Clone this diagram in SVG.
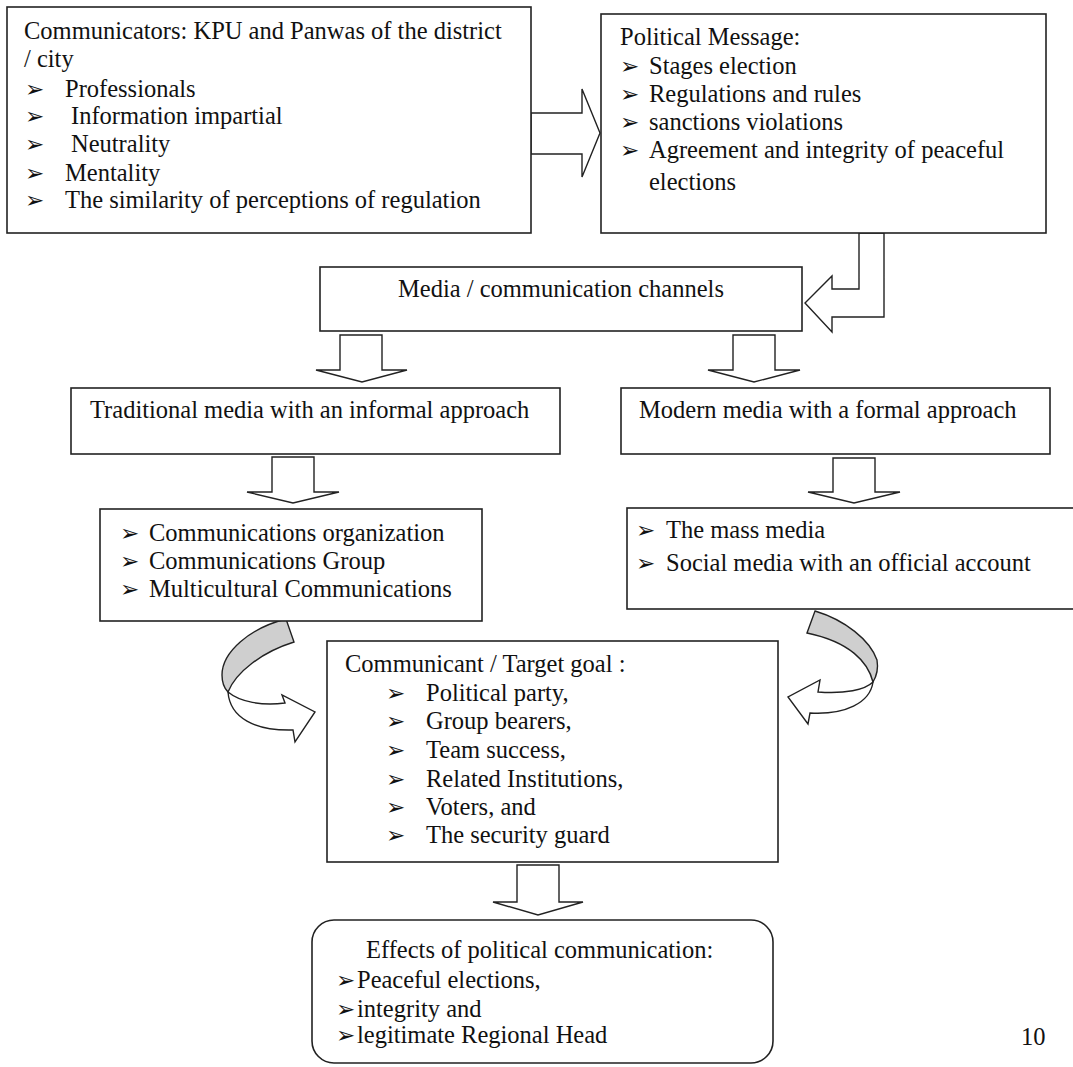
<svg xmlns="http://www.w3.org/2000/svg" width="1073" height="1067" viewBox="0 0 1073 1067">
<defs>
<style>
.box{fill:#fff;stroke:#222;stroke-width:1.6}
.arr{fill:#fff;stroke:#222;stroke-width:1.4;stroke-linejoin:miter}
.gray{fill:#cfcfcf;stroke:#222;stroke-width:1.4}
.t{font-family:"Liberation Serif","Times New Roman",serif;font-size:24.5px;fill:#111}
.b{font-family:"DejaVu Sans",sans-serif;font-size:23px;fill:#111}
</style>
</defs>
<rect width="1073" height="1067" fill="#fff"/>

<g id="connectors">
<polygon class="arr" points="531,113 582,113 582,89 600,133 582,177 582,154 531,154"/>
<polygon class="arr" points="859,233 884,233 884,317 832,317 832,332 805,303 832,276 832,289 859,289"/>
<polygon class="arr" points="340,335 382,335 382,370 407,370 362,382 316,370 340,370"/>
<polygon class="arr" points="733,335 775,335 775,370 800,370 754,382 708,370 733,370"/>
<polygon class="arr" points="272,457 314,457 314,492 339,492 293,503 247,492 272,492"/>
<polygon class="arr" points="833,458 875,458 875,492 900,492 854,503 808,492 833,492"/>
<polygon class="arr" points="517,865 559,865 559,902 583,902 538,915 493,902 517,902"/>
<g id="curved-left">
<path class="gray" d="M286,619 C250,628 222,652 222,675 Q222,686 228,692 C236,672 262,652 294,642 Z"/>
<path class="arr" d="M228,692 C240,702 262,706 285,703 L282,695 L315,712 L295,742 L293,730 C255,731 230,718 228,692 Z"/>
</g>
<g id="curved-right">
<path class="gray" d="M815,611 C845,620 870,640 877,660 Q879,672 873,682 C868,662 850,642 807,633 Z"/>
<path class="arr" d="M873,682 C865,690 845,694 818,692 L820,680 L788,697 L808,724 L810,713 C845,715 870,703 873,682 Z"/>
</g>
</g>

<g id="communicators">
<rect class="box" x="7" y="7" width="524" height="226"/>
<text class="t" x="24" y="39">Communicators: KPU and Panwas of the district</text>
<text class="t" x="24" y="67">/ city</text>
<text class="b" x="25" y="97">➢</text><text class="t" x="65" y="97">Professionals</text>
<text class="b" x="25" y="124">➢</text><text class="t" x="71" y="124">Information impartial</text>
<text class="b" x="25" y="152">➢</text><text class="t" x="71" y="152">Neutrality</text>
<text class="b" x="25" y="181">➢</text><text class="t" x="65" y="181">Mentality</text>
<text class="b" x="25" y="208">➢</text><text class="t" x="65" y="208">The similarity of perceptions of regulation</text>
</g>

<g id="political-message">
<rect class="box" x="601" y="14" width="445" height="219"/>
<text class="t" x="620" y="45">Political Message:</text>
<text class="b" x="620" y="74">➢</text><text class="t" x="649" y="74">Stages election</text>
<text class="b" x="620" y="102">➢</text><text class="t" x="649" y="102">Regulations and rules</text>
<text class="b" x="620" y="130">➢</text><text class="t" x="649" y="130">sanctions violations</text>
<text class="b" x="620" y="158">➢</text><text class="t" x="649" y="158">Agreement and integrity of peaceful</text>
<text class="t" x="649" y="190">elections</text>
</g>

<g id="media-channels">
<rect class="box" x="320" y="267" width="482" height="64"/>
<text class="t" x="561" y="297" text-anchor="middle">Media / communication channels</text>
</g>

<g id="traditional-media">
<rect class="box" x="71" y="388" width="489" height="66"/>
<text class="t" x="90" y="418">Traditional media with an informal approach</text>
</g>

<g id="modern-media">
<rect class="box" x="621" y="388" width="429" height="66"/>
<text class="t" x="639" y="418">Modern media with a formal approach</text>
</g>

<g id="communications">
<rect class="box" x="100" y="509" width="382" height="112"/>
<text class="b" x="120" y="541">➢</text><text class="t" x="149" y="541">Communications organization</text>
<text class="b" x="120" y="569">➢</text><text class="t" x="149" y="569">Communications Group</text>
<text class="b" x="120" y="597">➢</text><text class="t" x="149" y="597">Multicultural Communications</text>
</g>

<g id="mass-media">
<rect class="box" x="627" y="508" width="450" height="101"/>
<text class="b" x="636" y="538">➢</text><text class="t" x="666" y="538">The mass media</text>
<text class="b" x="636" y="571">➢</text><text class="t" x="666" y="571">Social media with an official account</text>
</g>

<g id="communicant">
<rect class="box" x="327" y="641" width="451" height="221"/>
<text class="t" x="345" y="672">Communicant / Target goal :</text>
<text class="b" x="386" y="701">➢</text><text class="t" x="426" y="701">Political party,</text>
<text class="b" x="386" y="729">➢</text><text class="t" x="426" y="729">Group bearers,</text>
<text class="b" x="386" y="758">➢</text><text class="t" x="426" y="758">Team success,</text>
<text class="b" x="386" y="787">➢</text><text class="t" x="426" y="787">Related Institutions,</text>
<text class="b" x="386" y="815">➢</text><text class="t" x="426" y="815">Voters, and</text>
<text class="b" x="386" y="843">➢</text><text class="t" x="426" y="843">The security guard</text>
</g>

<g id="effects">
<rect class="box" x="312" y="920" width="461" height="143" rx="22" ry="22"/>
<text class="t" x="366" y="958">Effects of political communication:</text>
<text class="b" x="336" y="988">➢</text><text class="t" x="357" y="988">Peaceful elections,</text>
<text class="b" x="336" y="1017">➢</text><text class="t" x="357" y="1017">integrity and</text>
<text class="b" x="336" y="1043">➢</text><text class="t" x="357" y="1043">legitimate Regional Head</text>
</g>

<text class="t" x="1021" y="1045">10</text>
</svg>
